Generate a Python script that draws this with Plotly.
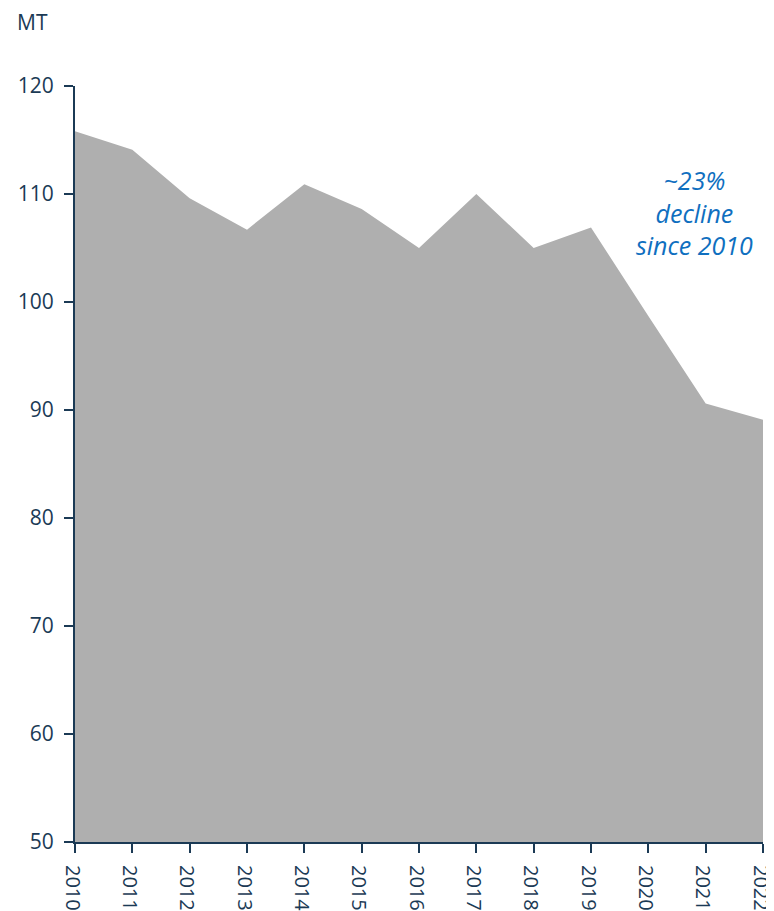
import plotly.graph_objects as go

years = [2010, 2011, 2012, 2013, 2014, 2015, 2016, 2017, 2018, 2019, 2020, 2021, 2022]
values = [115.8, 114.1, 109.6, 106.7, 110.9, 108.6, 105.0, 110.0, 105.0, 106.9, 98.7, 90.6, 89.1]
y_ticks = [50, 60, 70, 80, 90, 100, 110, 120]
unit_label = "MT"
note_text = "~23%<br>decline<br>since 2010"

axis_color = "#1B3A55"
fill_color = "#AFAFAF"
note_color = "#0F6FBF"
font_family = "Open Sans, Noto Sans, sans-serif"

fig = go.Figure()
fig.add_trace(go.Scatter(
    x=years, y=values, mode="lines", fill="tozeroy",
    fillcolor=fill_color, line=dict(width=0, color=fill_color),
    hoverinfo="skip", showlegend=False,
))

fig.update_layout(
    width=766, height=903,
    margin=dict(l=67, r=11, t=78, b=69, autoexpand=False),
    paper_bgcolor="white", plot_bgcolor="white",
    font=dict(family=font_family, color=axis_color, size=21),
    showlegend=False,
    xaxis=dict(
        range=[2010, 2022], tickmode="array", tickvals=years,
        ticktext=[str(y) for y in years], tickangle=90,
        showgrid=False, zeroline=False, showline=True,
        linecolor=axis_color, linewidth=2,
        ticks="outside", ticklen=9, tickwidth=2, tickcolor=axis_color,
        tickfont=dict(size=20, color=axis_color),
        ticklabelstandoff=8, ticklabelshift=-3,
        ticklabeloverflow="allow", automargin=False,
    ),
    yaxis=dict(
        range=[50, 120], tickmode="array", tickvals=y_ticks,
        showgrid=False, zeroline=False, showline=True,
        linecolor=axis_color, linewidth=2,
        ticks="outside", ticklen=9, tickwidth=2, tickcolor=axis_color,
        tickfont=dict(size=21, color=axis_color),
        ticklabelstandoff=6, ticklabeloverflow="allow", automargin=False,
    ),
    annotations=[
        dict(text=unit_label, xref="paper", yref="paper", x=-0.0625, y=1.085,
             xanchor="center", yanchor="middle", showarrow=False,
             font=dict(size=21, color=axis_color, family=font_family)),
        dict(text="<i>" + note_text + "</i>", xref="x", yref="y",
             x=2020.81, y=108.3, xanchor="center", yanchor="middle",
             showarrow=False, align="center",
             font=dict(size=25, color=note_color, family=font_family)),
    ],
)

fig.write_html("out.html")
